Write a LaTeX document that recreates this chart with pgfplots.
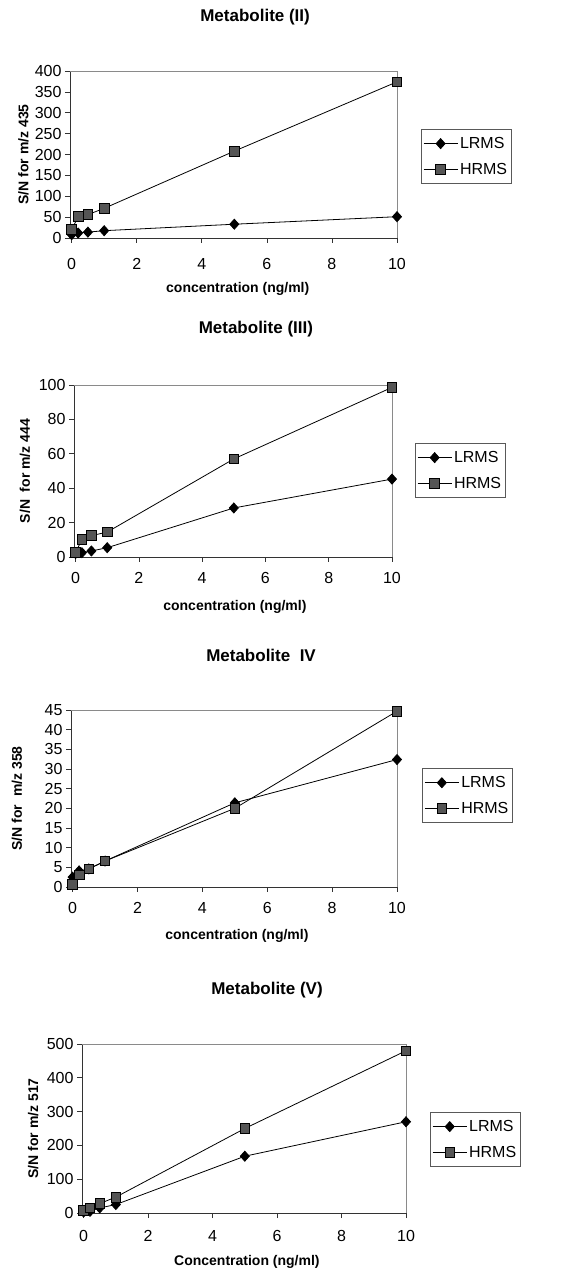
\documentclass[border=0pt]{standalone}
\usepackage{fontspec}
\setmainfont{Liberation Sans}
\usepackage{pgfplots}
\pgfplotsset{compat=1.18}

\definecolor{hrmsfill}{HTML}{555555}
\definecolor{frame}{HTML}{8A8A8A}

\pgfplotsset{
  panel/.style={
    scale only axis, anchor=south west, clip=false,
    axis lines=left, axis line style={-, black!80, line width=0.8pt},
    xmin=-0.05, xmax=10, xtick={0,2,...,10}, ymin=0,
    tick align=outside, major tick length=5pt, minor tick num=0,
    tick style={black!80, line width=0.7pt},
    /pgf/number format/assume math mode=true,
    ticklabel style={font=\fontsize{16}{19}\selectfont},
    xticklabel style={text height=11.5pt, text depth=0pt},
    label style={font=\bfseries\fontsize{14}{17}\selectfont},
    title style={font=\bfseries\fontsize{17}{20}\selectfont, anchor=center},
    legend style={anchor=north west, draw=black!65, line width=0.7pt,
      font=\fontsize{16}{19}\selectfont, row sep=9pt, inner xsep=2pt, inner ysep=6pt,
      cells={anchor=west}},
    legend image code/.code={\draw[mark repeat=2, mark phase=2, #1]
      plot coordinates {(0pt,0pt) (17pt,0pt) (34pt,0pt)};},
  },
  lrms/.style={black, line width=0.8pt, mark=diamond*, mark size=5pt,
    mark options={xscale=1.2, fill=black}},
  hrms/.style={black, line width=0.8pt, mark=square*, mark size=4.8pt,
    mark options={fill=hrmsfill, draw=black}},
}

\begin{document}
\begin{tikzpicture}
\useasboundingbox (0pt,0pt) rectangle (569pt,1270pt);

% ---- Metabolite (II)
\begin{axis}[panel, at={(70pt,1032pt)}, width=327pt, height=167pt,
    ymax=400, ytick={0,50,...,400}, xticklabel style={yshift=-11pt},
    title={Metabolite (II)}, title style={at={(axis description cs:0.566,1.287)}},
    xlabel={concentration (ng/ml)}, xlabel style={at={(axis description cs:0.513,-0.305)}, anchor=center},
    ylabel={S/N for m/z 435}, ylabel style={at={(axis description cs:-0.142,0.5)}, anchor=center},
    legend style={at={(1.073,0.653)}}]
  \addplot[lrms] coordinates {(0,8) (0.2,12) (0.5,14) (1,17.5) (5,33) (10,51)};
  \addplot[hrms] coordinates {(0,20) (0.2,51) (0.5,56) (1,71) (5,208) (10,374)};
  \legend{LRMS, HRMS}
  \draw[frame, line width=0.7pt] (rel axis cs:0,1) -- (rel axis cs:1,1) -- (rel axis cs:1,0);
\end{axis}

% ---- Metabolite (III)
\begin{axis}[panel, at={(74pt,713pt)}, width=318pt, height=172pt,
    ymax=100, ytick={0,20,...,100}, xticklabel style={yshift=-6pt},
    title={Metabolite (III)}, title style={at={(axis description cs:0.572,1.291)}},
    xlabel={concentration (ng/ml)}, xlabel style={at={(axis description cs:0.506,-0.291)}, anchor=center},
    ylabel={S/N\ \ for m/z 444}, ylabel style={at={(axis description cs:-0.154,0.5)}, anchor=center},
    legend style={at={(1.072,0.663)}}]
  \addplot[lrms] coordinates {(0,2) (0.2,2.5) (0.5,3.5) (1,5.4) (5,28.5) (10,45.3)};
  \addplot[hrms] coordinates {(0,2.5) (0.2,10.3) (0.5,12.4) (1,14.5) (5,57) (10,98.6)};
  \legend{LRMS, HRMS}
  \draw[frame, line width=0.7pt] (rel axis cs:0,1) -- (rel axis cs:1,1) -- (rel axis cs:1,0);
\end{axis}

% ---- Metabolite IV
\begin{axis}[panel, at={(71pt,383pt)}, width=326pt, height=177pt,
    ymax=45, ytick={0,5,...,45}, xticklabel style={yshift=-6pt},
    title={Metabolite\ \ IV}, title style={at={(axis description cs:0.583,1.277)}},
    xlabel={concentration (ng/ml)}, xlabel style={at={(axis description cs:0.509,-0.277)}, anchor=center},
    ylabel={S/N for\ \ m/z 358}, ylabel style={at={(axis description cs:-0.166,0.5)}, anchor=center},
    legend style={at={(1.077,0.672)}}]
  \addplot[lrms] coordinates {(0,2.5) (0.2,4.1) (0.5,4.6) (1,6.6) (5,21.4) (10,32.4)};
  \addplot[hrms] coordinates {(0,0.6) (0.2,3.1) (0.5,4.6) (1,6.6) (5,20) (10,44.7)};
  \legend{LRMS, HRMS}
  \draw[frame, line width=0.7pt] (rel axis cs:0,1) -- (rel axis cs:1,1) -- (rel axis cs:1,0);
\end{axis}

% ---- Metabolite (V)
\begin{axis}[panel, at={(82pt,57pt)}, width=324pt, height=169pt,
    ymax=500, ytick={0,100,...,500}, xticklabel style={yshift=-8pt},
    title={Metabolite (V)}, title style={at={(axis description cs:0.571,1.284)}},
    xlabel={Concentration (ng/ml)}, xlabel style={at={(axis description cs:0.509,-0.29)}, anchor=center},
    ylabel={S/N for m/z 517}, ylabel style={at={(axis description cs:-0.151,0.5)}, anchor=center},
    legend style={at={(1.074,0.598)}}]
  \addplot[lrms] coordinates {(0,3) (0.2,5) (0.5,15) (1,25) (5,168) (10,270)};
  \addplot[hrms] coordinates {(0,7) (0.2,15) (0.5,28) (1,47) (5,250) (10,480)};
  \legend{LRMS, HRMS}
  \draw[frame, line width=0.7pt] (rel axis cs:0,1) -- (rel axis cs:1,1) -- (rel axis cs:1,0);
\end{axis}
\end{tikzpicture}
\end{document}
